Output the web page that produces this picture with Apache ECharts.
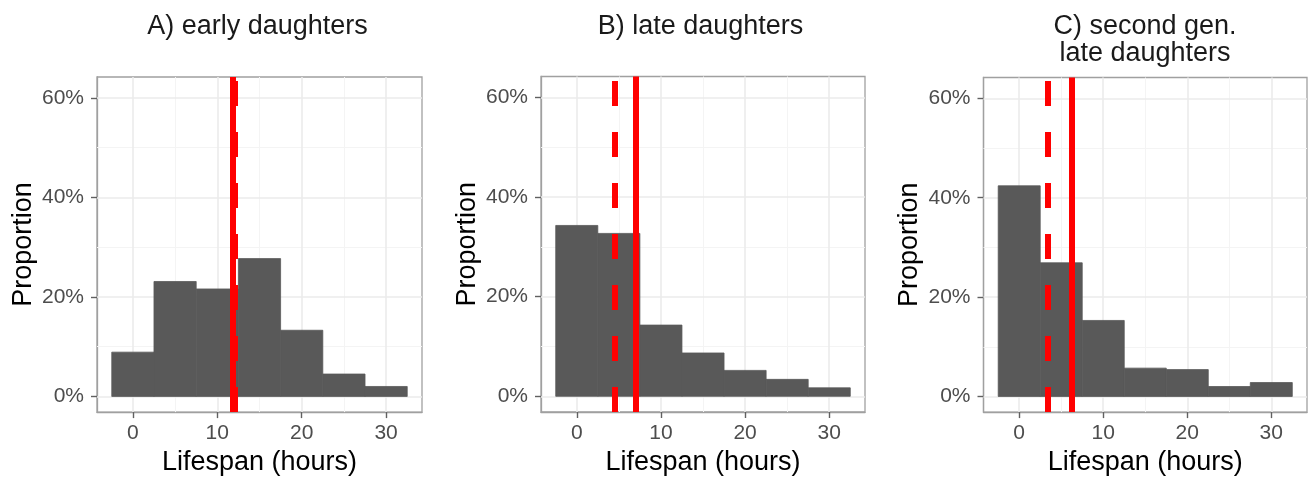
<!DOCTYPE html>
<html>
<head>
<meta charset="utf-8">
<script src="https://cdn.jsdelivr.net/npm/echarts@6/dist/echarts.min.js"></script>
<style>
html,body{margin:0;padding:0;background:#fff;}
#chart{width:1308px;height:481px;}
</style>
</head>
<body>
<div id="chart"></div>
<script>
// ---- data ----
const panelTitles = ['A) early daughters', 'B) late daughters', 'C) second gen.\nlate daughters'];
const binStarts = [-2.5, 2.5, 7.5, 12.5, 17.5, 22.5, 27.5];
const binWidth = 5;
const earlyVals  = [8.9, 23.1, 21.6, 27.7, 13.3, 4.5, 2.0];
const lateVals   = [34.3, 32.7, 14.3, 8.7, 5.2, 3.4, 1.7];
const secondVals = [42.4, 26.9, 15.3, 5.7, 5.4, 2.0, 2.8];
const meanVals   = [11.8, 6.95, 6.3];   // solid lines
const medianVals = [12.05, 4.5, 3.45];  // dashed lines
const xTicks = [0, 10, 20, 30];
const xMinor = [5, 15, 25];
const yTicks = [0, 20, 40, 60];
const yMinor = [10, 30, 50];
const xLabel = 'Lifespan (hours)';
const yLabel = 'Proportion';

const panelVals = [earlyVals, lateVals, secondVals];
const FONT = '"Liberation Sans", Arial, sans-serif';
const BORDER = '#a0a0a0';
const TICK = '#606060';
const grids = [
  {left: 97, top: 77, width: 325, height: 335.5, titleX: 257.5},
  {left: 541, top: 76.5, width: 324, height: 335.5, titleX: 700.5},
  {left: 983.5, top: 77.5, width: 323.5, height: 335, titleX: 1145}
];

const option = {
  animation: false,
  backgroundColor: '#fff',
  textStyle: {fontFamily: FONT},
  title: [], grid: [], xAxis: [], yAxis: [], series: []
};

grids.forEach((g, i) => {
  option.title.push({
    text: panelTitles[i],
    left: g.titleX,
    top: 13,
    padding: 0,
    textAlign: 'center',
    textStyle: {fontFamily: FONT, fontSize: 27, fontWeight: 'normal', color: '#1a1a1a', lineHeight: 27}
  });
  option.grid.push({
    left: g.left, top: g.top, width: g.width, height: g.height,
    show: true, borderColor: BORDER, borderWidth: 1.3, backgroundColor: '#fff'
  });
  option.xAxis.push({
    type: 'value', gridIndex: i, min: -4.25, max: 34.25, position: 'bottom',
    name: xLabel, nameLocation: 'middle', nameGap: 35,
    nameTextStyle: {fontFamily: FONT, fontSize: 27, color: '#000'},
    axisLine: {show: true, onZero: false, lineStyle: {color: BORDER, width: 1.3}},
    axisTick: {show: true, inside: false, length: 6, customValues: xTicks, lineStyle: {color: TICK, width: 1.4}},
    axisLabel: {customValues: xTicks, margin: 11, fontFamily: FONT, fontSize: 21, color: '#4d4d4d'},
    splitLine: {show: false}
  });
  option.yAxis.push({
    type: 'value', gridIndex: i, min: -3.15, max: 64.2, position: 'left',
    name: yLabel, nameLocation: 'middle', nameGap: 60,
    nameTextStyle: {fontFamily: FONT, fontSize: 27, color: '#000'},
    axisLine: {show: true, onZero: false, lineStyle: {color: BORDER, width: 1.3}},
    axisTick: {show: true, inside: false, length: 6, customValues: yTicks, lineStyle: {color: TICK, width: 1.4}},
    axisLabel: {customValues: yTicks, margin: 13, fontFamily: FONT, fontSize: 21, color: '#4d4d4d',
      formatter: v => v + '%'},
    splitLine: {show: false}
  });
  // grid lines (through axis scales)
  const gridLines = [];
  xMinor.forEach(v => gridLines.push({xAxis: v, lineStyle: {color: '#f4f4f4', width: 1}}));
  yMinor.forEach(v => gridLines.push({yAxis: v, lineStyle: {color: '#f4f4f4', width: 1}}));
  xTicks.forEach(v => gridLines.push({xAxis: v, lineStyle: {color: '#ebebeb', width: 1.6}}));
  yTicks.forEach(v => gridLines.push({yAxis: v, lineStyle: {color: '#ebebeb', width: 1.6}}));
  option.series.push({
    type: 'line', xAxisIndex: i, yAxisIndex: i, data: [], z: 1, silent: true,
    markLine: {silent: true, symbol: 'none', z: 1, label: {show: false}, animation: false,
      lineStyle: {type: 'solid'}, data: gridLines}
  });
  // histogram bars
  option.series.push({
    type: 'custom', xAxisIndex: i, yAxisIndex: i, z: 2, silent: true,
    data: binStarts.map((s, k) => [s, s + binWidth, panelVals[i][k]]),
    renderItem: (params, api) => {
      const p0 = api.coord([api.value(0), api.value(2)]);
      const p1 = api.coord([api.value(1), 0]);
      return {type: 'rect', shape: {x: p0[0], y: p0[1], width: p1[0] - p0[0], height: p1[1] - p0[1]},
        style: {fill: '#595959', stroke: '#595959', lineWidth: 0.8}};
    },
    markLine: {silent: true, symbol: 'none', z: 5, label: {show: false}, animation: false,
      data: [
        {xAxis: medianVals[i], lineStyle: {color: '#ff0000', width: 6, type: [25, 26]}},
        {xAxis: meanVals[i], lineStyle: {color: '#ff0000', width: 6, type: 'solid'}}
      ]}
  });
});

const chart = echarts.init(document.getElementById('chart'), null, {renderer: 'canvas'});
chart.setOption(option);
</script>
</body>
</html>
